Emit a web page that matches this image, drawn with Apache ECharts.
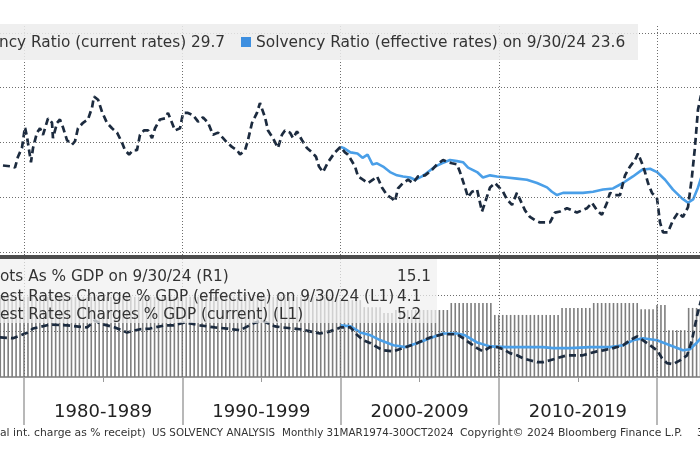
<!DOCTYPE html>
<html><head><meta charset="utf-8">
<script src="https://cdn.jsdelivr.net/npm/echarts@6/dist/echarts.min.js"></script>
<style>html,body{margin:0;padding:0;background:#fff}#c{width:700px;height:450px}</style>
</head><body><div id="c"></div>
<script>
// ---- Solvency ratio (interest charge as % of receipts), top panel ----
const curRatioYears = [
 1978.67,1979.30,1979.43,1979.62,1979.87,1980.06,1980.19,1980.44,1980.57,1980.82,
 1981.01,1981.20,1981.52,1981.77,1981.83,1982.09,1982.27,1982.46,1982.72,1983.03,
 1983.22,1983.41,1983.73,1984.04,1984.30,1984.42,1984.68,1984.93,1985.24,1985.56,
 1985.88,1986.19,1986.38,1986.64,1986.89,1987.14,1987.33,1987.58,1987.84,1988.09,
 1988.28,1988.59,1988.91,1989.10,1989.35,1989.54,1989.86,1990.05,1990.36,1990.68,
 1991.00,1991.31,1991.63,1991.94,1992.26,1992.58,1992.83,1993.14,1993.46,1993.65,
 1993.97,1994.15,1994.41,1994.72,1994.91,1995.23,1995.42,1995.73,1996.05,1996.30,
 1996.49,1996.81,1997.00,1997.25,1997.57,1997.88,1998.20,1998.45,1998.64,1998.89,
 1999.21,1999.65,2000.00,2000.28,2000.47,2000.92,2001.11,2001.42,2001.74,2002.05,
 2002.31,2002.62,2002.94,2003.25,2003.44,2003.63,2003.95,2004.27,2004.58,2004.90,
 2005.34,2005.78,2006.10,2006.48,2006.79,2007.05,2007.36,2007.55,2007.87,2008.06,
 2008.31,2008.63,2008.94,2009.13,2009.45,2009.76,2010.02,2010.27,2010.52,2010.84,
 2011.15,2011.34,2011.66,2011.97,2012.29,2012.61,2012.92,2013.24,2013.55,2013.87,
 2014.31,2014.63,2014.94,2015.26,2015.58,2015.89,2016.21,2016.52,2016.84,2017.03,
 2017.35,2017.66,2017.98,2018.29,2018.61,2018.80,2019.05,2019.24,2019.43,2019.68,
 2020.00,2020.19,2020.38,2020.69,2021.01,2021.33,2021.64,2021.96,2022.21,2022.40,
 2022.59,2022.78];
const curRatio = [
 12.9,12.8,12.7,13.7,14.5,16.4,15.5,13.2,14.5,15.9,
 16.3,15.7,17.2,16.8,15.4,16.8,17.1,16.4,15.2,14.8,
 15.1,16.3,16.8,17.1,18.2,19.2,18.9,17.8,16.8,16.3,
 15.9,15.0,14.3,13.9,14.3,14.3,15.7,16.1,16.1,15.4,
 16.3,17.1,17.2,17.7,16.8,16.1,16.3,17.7,17.7,17.5,
 16.9,17.3,16.8,15.7,15.9,15.4,15.0,14.6,14.3,13.9,
 14.3,15.2,16.8,17.7,18.6,17.3,16.1,15.4,14.5,15.7,
 16.1,15.9,15.4,16.0,15.2,14.5,14.1,13.7,12.8,12.3,
 13.2,14.1,14.6,14.1,13.9,12.8,11.9,11.6,11.3,11.6,
 11.9,10.9,10.2,9.9,9.6,10.8,11.3,11.6,11.3,11.9,
 12.0,12.5,13.0,13.4,13.2,13.1,13.0,12.3,10.9,10.0,
 10.5,10.7,8.7,9.5,10.9,11.3,10.9,10.5,9.8,9.3,
 10.4,9.8,8.8,8.2,7.9,7.7,7.7,7.7,8.6,8.7,
 9.0,8.8,8.6,8.8,9.0,9.5,8.8,8.4,9.5,10.4,
 10.2,10.2,12.0,12.8,13.4,14.0,13.1,12.3,11.3,10.4,
 9.9,7.7,6.8,6.8,7.9,8.6,8.2,9.1,11.9,14.6,
 18.0,19.3];
const effRatioYears = [
 2000.00,2000.19,2000.63,2001.07,2001.39,2001.71,2002.02,2002.31,2002.69,2003.13,
 2003.57,2003.95,2004.39,2004.71,2005.15,2005.53,2005.97,2006.41,2006.92,2007.36,
 2007.74,2008.06,2008.63,2009.00,2009.45,2009.89,2010.52,2011.15,2011.78,2012.42,
 2013.05,2013.36,2013.68,2014.06,2014.69,2015.32,2015.96,2016.59,2017.22,2017.85,
 2018.48,2019.05,2019.56,2020.00,2020.51,2021.01,2021.58,2021.96,2022.28,2022.59,
 2022.84];
const effRatio = [
 14.6,14.5,14.1,14.0,13.6,13.9,13.0,13.1,12.8,12.3,
 12.0,11.9,11.8,11.6,11.9,12.3,12.8,13.1,13.4,13.3,
 13.2,12.7,12.3,11.8,12.0,11.9,11.8,11.7,11.6,11.3,
 10.9,10.5,10.2,10.4,10.4,10.4,10.5,10.7,10.8,11.3,
 11.9,12.5,12.6,12.3,11.6,10.7,9.9,9.5,9.8,10.9,
 12.0];
// ---- Interest charges % GDP (L1), bottom panel ----
const curGdpYears = [
 1978.48,1979.30,1980.25,1980.57,1981.64,1982.72,1983.98,1984.49,1984.80,1985.75,
 1986.51,1987.33,1987.96,1988.91,1989.42,1990.17,1991.12,1992.07,1992.83,1993.65,
 1994.47,1995.04,1995.86,1996.37,1997.44,1998.70,1999.34,2000.00,2000.63,2001.07,
 2001.45,2001.90,2002.31,2002.69,2003.32,2003.95,2004.83,2005.66,2006.48,2007.36,
 2007.74,2008.18,2008.63,2009.00,2009.45,2009.89,2010.27,2010.71,2011.15,2011.53,
 2011.97,2012.42,2012.80,2013.24,2013.68,2014.31,2014.94,2015.32,2015.77,2016.21,
 2016.59,2017.22,2017.85,2018.29,2018.74,2019.12,2019.56,2020.00,2020.32,2020.63,
 2021.01,2021.45,2021.90,2022.21,2022.53,2022.78];
const curGdp = [
 1.83,1.81,1.97,2.08,2.19,2.17,2.11,2.31,2.22,2.11,
 1.97,2.06,2.08,2.17,2.17,2.25,2.17,2.11,2.08,2.03,
 2.22,2.31,2.14,2.11,2.06,1.94,2.00,2.11,2.11,1.89,
 1.75,1.67,1.56,1.47,1.44,1.53,1.67,1.83,1.92,1.92,
 1.81,1.67,1.53,1.44,1.56,1.56,1.50,1.39,1.33,1.25,
 1.19,1.14,1.14,1.19,1.25,1.33,1.33,1.33,1.39,1.44,
 1.47,1.53,1.61,1.75,1.86,1.75,1.61,1.47,1.25,1.11,
 1.08,1.19,1.33,1.75,2.44,2.86];
const effGdpYears = [
 2000.00,2000.63,2001.26,2001.90,2002.53,2003.35,2004.08,2004.83,2005.65,2006.48,
 2007.36,2007.87,2008.63,2009.45,2010.52,2011.53,2012.80,2013.43,2014.50,2015.77,
 2017.03,2017.85,2018.48,2019.12,2020.00,2020.82,2021.64,2022.08,2022.53,2022.91];
const effGdp = [
 2.17,2.14,1.97,1.89,1.75,1.61,1.56,1.67,1.81,1.94,
 1.94,1.89,1.69,1.58,1.56,1.56,1.56,1.53,1.53,1.56,
 1.56,1.61,1.75,1.81,1.75,1.61,1.47,1.50,1.69,1.89];
// ---- Quarterly bars (R1), first bar 1978 Q3 ----
const barFirstYear = 1978.5;
const barValues = [
 19.5,19.5,
 19.5,19.5,19.5,19.5, 19.5,19.5,19.5,19.5, 19.5,19.5,19.5,19.5, 19.5,19.5,19.5,19.5, 19.5,19.5,19.5,19.5,
 19.5,19.5,19.5,19.5, 19.5,19.5,19.5,19.5, 19.5,19.5,19.5,19.5, 19.5,19.5,19.5,19.5, 19.5,19.5,19.5,19.5,
 19.5,19.5,19.5,19.5, 19.5,19.5,19.5,19.5, 19.5,19.5,19.5,19.5, 19.5,19.5,19.5,19.5, 19.5,19.5,19.5,19.5,
 19.5,19.5,19.5,19.5, 19.5,19.5,19.5,19.5, 19.5,19.5,19.5,19.5, 19.5,19.5,19.5,19.5, 19.5,19.5,19.5,19.5,
 19.5,19.5,19.5,19.5,
 18.7,18.7,18.7,18.7, 18.7,18.7,17.0,17.0, 17.0,17.0,17.0,15.6, 15.6,15.6,16.3,16.3, 16.3,16.3,16.3,16.3,
 16.3,16.3,16.3,16.3, 16.3,16.3,16.3,16.3, 18.0,18.0,18.0,18.0, 18.0,18.0,18.0,18.0, 18.0,18.0,18.0,15.1,
 15.1,15.1,15.1,15.1, 15.1,15.1,15.1,15.1, 15.1,15.1,15.1,15.1, 15.1,15.1,15.1,15.1, 16.8,16.8,16.8,16.8,
 16.8,16.8,16.8,16.8, 18.0,18.0,18.0,18.0, 18.0,18.0,18.0,18.0, 18.0,18.0,18.0,18.0, 16.5,16.5,16.5,16.5,
 17.5,17.5,17.5,11.4, 11.4,11.4,11.4,11.4, 16.8,16.8,16.8,16.8];
const decadeStarts = [1980,1990,2000,2010,2020];
const decadeMids = [1985,1995,2005,2015];
const decadeLabels = {1985:'1980-1989', 1995:'1990-1999', 2005:'2000-2009', 2015:'2010-2019'};
const ratioGridValues = [5,10,15,20,25];
const gdpGridValues = [2,3];

const pairs = (xs, ys) => xs.map((x, i) => [x, ys[i]]);
const barData = barValues.map((v, i) => [barFirstYear + i * 0.25, v]);

const FONT = 'DejaVu Sans';
const X_MIN = 1978.483, X_MAX = 2022.717;
const dotted = {color:'#6e6e6e', width:1, type:[1,2]};
const xBase = {type:'value', min:X_MIN, max:X_MAX,
  axisLine:{show:false}, axisTick:{show:false}, axisLabel:{show:false}, splitLine:{show:false}};
const gridBox = {left:0, right:0, outerBoundsMode:'none', containLabel:false};
const ml = (lineStyle, yVals, xVals) => ({silent:true, symbol:'none', label:{show:false}, lineStyle,
  animation:false, data:[...yVals.map(v => ({yAxis:v})), ...xVals.map(v => ({xAxis:v}))]});
const txt = (x, y, text, size) => ({type:'text', x, y, z:101,
  style:{text, font:size + 'px "DejaVu Sans"', fill:'#333', verticalAlign:'middle'}});

const chart = echarts.init(document.getElementById('c'), null, {renderer:'canvas'});
chart.setOption({
  animation:false,
  backgroundColor:'#ffffff',
  grid:[
    Object.assign({top:24, height:231}, gridBox),
    Object.assign({top:259, height:118}, gridBox),
    Object.assign({top:377, height:48}, gridBox)
  ],
  xAxis:[
    Object.assign({gridIndex:0}, xBase),
    Object.assign({}, xBase, {gridIndex:1,
      axisLine:{show:true, lineStyle:{color:'#9a9a9a', width:2}},
      axisTick:{show:true, length:5, customValues:decadeMids, lineStyle:{color:'#9a9a9a', width:1}},
      axisLabel:{show:true, margin:26, customValues:decadeMids, fontFamily:FONT, fontSize:18, color:'#222',
        formatter:v => decadeLabels[Math.round(v)] || ''}}),
    Object.assign({gridIndex:2}, xBase)
  ],
  yAxis:[
    {gridIndex:0, type:'value', min:4.726, max:25.82, show:false, splitLine:{show:false}},
    {gridIndex:1, type:'value', min:0.7222, max:4.0278, show:false, splitLine:{show:false}},
    {gridIndex:1, type:'value', min:0, max:28.71, show:false, splitLine:{show:false}},
    {gridIndex:2, type:'value', min:0, max:1, show:false, splitLine:{show:false}}
  ],
  series:[
    {type:'bar', xAxisIndex:1, yAxisIndex:2, data:barData, barWidth:1.6,
      itemStyle:{color:'#7e7e7e'}, z:1, silent:true},
    {type:'line', xAxisIndex:0, yAxisIndex:0, data:pairs(effRatioYears, effRatio),
      symbol:'none', lineStyle:{color:'#4a9fe8', width:2.6}, z:3, silent:true,
      markLine:ml(dotted, ratioGridValues, decadeStarts)},
    {type:'line', xAxisIndex:0, yAxisIndex:0, data:pairs(curRatioYears, curRatio),
      symbol:'none', lineStyle:{color:'#1c2b3f', width:2.7, type:[7,4]}, z:4, silent:true},
    {type:'line', xAxisIndex:1, yAxisIndex:1, data:pairs(effGdpYears, effGdp),
      symbol:'none', lineStyle:{color:'#4a9fe8', width:2.6}, z:3, silent:true,
      markLine:ml(dotted, gdpGridValues, decadeStarts)},
    {type:'line', xAxisIndex:1, yAxisIndex:1, data:pairs(curGdpYears, curGdp),
      symbol:'none', lineStyle:{color:'#1c2b3f', width:2.7, type:[7,4]}, z:4, silent:true},
    {type:'line', xAxisIndex:2, yAxisIndex:3, data:[[X_MIN, 0.5],[X_MAX, 0.5]], symbol:'none',
      lineStyle:{opacity:0}, silent:true,
      markLine:ml({color:'#a0a0a0', width:1.5, type:'solid'}, [], decadeStarts)}
  ],
  graphic:[
    {type:'rect', shape:{x:0, y:255, width:700, height:4}, style:{fill:'#4d4d4d'}, z:100},
    {type:'rect', shape:{x:0, y:24, width:638, height:36}, style:{fill:'rgba(236,236,236,0.85)'}, z:100},
    txt(-1, 43, 'ncy Ratio (current rates) 29.7', 15.3),
    {type:'rect', shape:{x:241, y:37, width:10, height:10}, style:{fill:'#3d8fe0'}, z:101},
    txt(256, 43, 'Solvency Ratio (effective rates) on 9/30/24 23.6', 15.4),
    {type:'rect', shape:{x:0, y:259, width:437, height:64}, style:{fill:'rgba(240,240,240,0.72)'}, z:100},
    txt(0, 277, 'ots As % GDP on 9/30/24 (R1)', 15.3),
    txt(0, 297, 'est Rates Charge % GDP (effective) on 9/30/24 (L1)', 15.3),
    txt(0, 315, 'est Rates Charges % GDP (current) (L1)', 15.3),
    txt(397, 277, '15.1', 15.3),
    txt(397, 297, '4.1', 15.3),
    txt(397, 315, '5.2', 15.3),
    txt(0, 433, 'al int. charge as % receipt)', 10.8),
    txt(152, 433, 'US SOLVENCY ANALYSIS', 10.3),
    txt(282, 433, 'Monthly 31MAR1974-30OCT2024', 10.3),
    txt(460, 433, 'Copyright\u00A9 2024 Bloomberg Finance L.P.', 10.8),
    txt(697, 433, '3', 10.5)
  ]
});
</script></body></html>
